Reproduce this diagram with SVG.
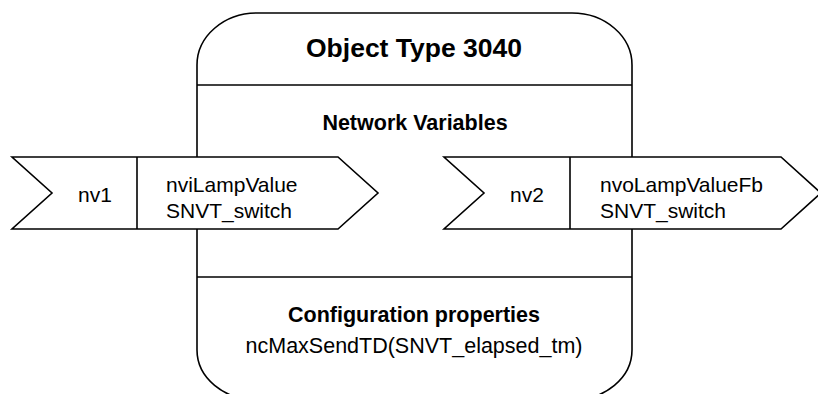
<svg xmlns="http://www.w3.org/2000/svg" width="818" height="394" viewBox="0 0 818 394">
<style>
.ln{fill:none;stroke:#000;stroke-width:1.6}
.sh{fill:#fff;stroke:#000;stroke-width:1.6;stroke-linejoin:miter}
.t{font-family:"Liberation Sans",Arial,sans-serif;fill:#000}
.b{font-weight:bold}
</style>
<rect width="818" height="394" fill="#fff"/>
<g id="object">
<path class="sh" d="M257,13 H572 A60,52 0 0 1 632,65 V350 A60,50 0 0 1 572,400 H257 A60,50 0 0 1 197,350 V65 A60,52 0 0 1 257,13 Z"/>
<line class="ln" x1="197" y1="85" x2="632" y2="85"/>
<line class="ln" x1="197" y1="277" x2="632" y2="277"/>
<text class="t b" x="414" y="57" font-size="26.5" text-anchor="middle">Object Type 3040</text>
<text class="t b" x="415" y="130" font-size="21.5" text-anchor="middle">Network Variables</text>
<text class="t b" x="414" y="322" font-size="21.5" text-anchor="middle">Configuration properties</text>
<text class="t" x="414" y="353" font-size="21.5" text-anchor="middle">ncMaxSendTD(SNVT_elapsed_tm)</text>
</g>
<g id="nv1">
<path class="sh" d="M12,157 H338 L378,193 L338,229 H12 L52,193 Z"/>
<line class="ln" x1="137" y1="157" x2="137" y2="229"/>
<text class="t" x="95" y="202" font-size="21" text-anchor="middle">nv1</text>
<text class="t" x="166" y="192" font-size="21">nviLampValue</text>
<text class="t" x="166" y="218" font-size="21">SNVT_switch</text>
</g>
<g id="nv2">
<path class="sh" d="M444,157 H781 L821,193 L781,229 H444 L484,193 Z"/>
<line class="ln" x1="570" y1="157" x2="570" y2="229"/>
<text class="t" x="527" y="202" font-size="21" text-anchor="middle">nv2</text>
<text class="t" x="600" y="192" font-size="21">nvoLampValueFb</text>
<text class="t" x="600" y="218" font-size="21">SNVT_switch</text>
</g>
<g id="connectors"></g>
</svg>
